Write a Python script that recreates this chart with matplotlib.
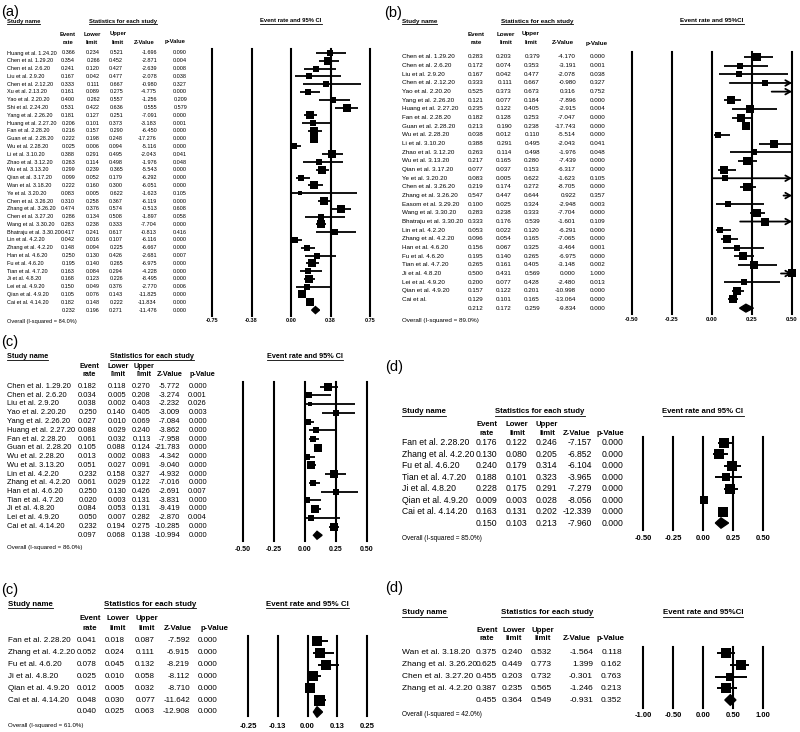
import matplotlib
matplotlib.use("Agg")
import matplotlib.pyplot as plt
from matplotlib.lines import Line2D
import numpy as np

plt.rcParams['font.family'] = ['Liberation Sans', 'DejaVu Sans']

W, H = 800, 732

# ---------------------------------------------------------------- data
a_studies = ["Huang et al. 1.24.20", "Chen et al. 1.29.20", "Chen et al. 2.6.20", "Liu et al. 2.9.20",
             "Chen et al. 2.12.20", "Xu et al. 2.13.20", "Yao et al. 2.20.20", "Shi et al. 2.24.20",
             "Yang et al. 2.26.20", "Huang et al. 2.27.20", "Fan et al. 2.28.20", "Guan et al. 2.28.20",
             "Wu et al. 2.28.20", "Li et al. 3.10.20", "Zhao et al. 3.12.20", "Wu et al. 3.13.20",
             "Qian et al. 3.17.20", "Wan et al. 3.18.20", "Ye et al. 3.20.20", "Chen et al. 3.26.20",
             "Zhang et al. 3.26.20", "Chen et al. 3.27.20", "Wang et al. 3.30.20", "Bhatraju et al. 3.30.20",
             "Lin et al. 4.2.20", "Zhang et al. 4.2.20", "Han et al. 4.6.20", "Fu et al. 4.6.20",
             "Tian et al. 4.7.20", "Ji et al. 4.8.20", "Lei et al. 4.9.20", "Qian et al. 4.9.20",
             "Cai et al. 4.14.20"]
a_rate = [0.366, 0.354, 0.241, 0.167, 0.333, 0.161, 0.400, 0.531, 0.181, 0.206, 0.216, 0.222, 0.025,
          0.388, 0.263, 0.299, 0.099, 0.222, 0.083, 0.310, 0.474, 0.286, 0.283, 0.417, 0.042, 0.148,
          0.250, 0.195, 0.163, 0.168, 0.150, 0.105, 0.182]
a_lower = [0.234, 0.266, 0.120, 0.042, 0.111, 0.089, 0.262, 0.422, 0.127, 0.101, 0.157, 0.198, 0.006,
           0.291, 0.114, 0.239, 0.052, 0.160, 0.005, 0.258, 0.376, 0.134, 0.238, 0.241, 0.016, 0.094,
           0.130, 0.140, 0.084, 0.123, 0.049, 0.076, 0.148]
a_upper = [0.521, 0.452, 0.427, 0.477, 0.667, 0.275, 0.557, 0.636, 0.251, 0.373, 0.290, 0.248, 0.094,
           0.495, 0.498, 0.365, 0.179, 0.300, 0.622, 0.367, 0.574, 0.508, 0.333, 0.617, 0.107, 0.225,
           0.426, 0.265, 0.294, 0.226, 0.376, 0.143, 0.222]
a_z = [-1.696, -2.871, -2.639, -2.078, -0.980, -4.775, -1.256, 0.555, -7.091, -3.183, -6.450, -17.276,
       -5.116, -2.043, -1.976, -5.543, -6.292, -6.051, -1.623, -6.119, -0.513, -1.897, -7.704, -0.813,
       -6.116, -6.667, -2.681, -6.975, -4.228, -8.495, -2.770, -11.825, -11.834]
a_p = [0.090, 0.004, 0.008, 0.038, 0.327, 0.000, 0.209, 0.579, 0.000, 0.001, 0.000, 0.000, 0.000,
       0.041, 0.048, 0.000, 0.000, 0.000, 0.105, 0.000, 0.608, 0.058, 0.000, 0.416, 0.000, 0.000,
       0.007, 0.000, 0.000, 0.000, 0.006, 0.000, 0.000]
a_overall = [0.232, 0.196, 0.271, -11.476, 0.000]
a_i2 = 84.0
a_ticks = [-0.75, -0.375, 0.0, 0.375, 0.75]
a_ticklabels = ["-0.75", "-0.38", "0.00", "0.38", "0.75"]

b_studies = ["Chen et al. 1.29.20", "Chen et al. 2.6.20", "Liu et al. 2.9.20", "Chen et al. 2.12.20",
             "Yao et al. 2.20.20", "Yang et al. 2.26.20", "Huang et al. 2.27.20", "Fan et al. 2.28.20",
             "Guan et al. 2.28.20", "Wu et al. 2.28.20", "Li et al. 3.10.20", "Zhao et al. 3.12.20",
             "Wu et al. 3.13.20", "Qian et al. 3.17.20", "Ye et al. 3.20.20", "Chen et al. 3.26.20",
             "Zhang et al. 3.26.20", "Easom et al. 3.29.20", "Wang et al. 3.30.20", "Bhatraju et al. 3.30.20",
             "Lin et al. 4.2.20", "Zhang et al. 4.2.20", "Han et al. 4.6.20", "Fu et al. 4.6.20",
             "Tian et al. 4.7.20", "Ji et al. 4.8.20", "Lei et al. 4.9.20", "Qian et al. 4.9.20", "Cai et al."]
b_rate = [0.283, 0.172, 0.167, 0.333, 0.525, 0.121, 0.235, 0.182, 0.213, 0.038, 0.388, 0.263, 0.217,
          0.077, 0.083, 0.219, 0.547, 0.100, 0.283, 0.333, 0.053, 0.096, 0.156, 0.195, 0.265, 0.500,
          0.200, 0.157, 0.129]
b_lower = [0.203, 0.074, 0.042, 0.111, 0.373, 0.077, 0.122, 0.128, 0.190, 0.012, 0.291, 0.114, 0.165,
           0.037, 0.005, 0.174, 0.447, 0.025, 0.238, 0.176, 0.022, 0.054, 0.067, 0.140, 0.161, 0.431,
           0.077, 0.122, 0.101]
b_upper = [0.379, 0.353, 0.477, 0.667, 0.673, 0.184, 0.405, 0.253, 0.238, 0.110, 0.495, 0.498, 0.280,
           0.153, 0.622, 0.272, 0.644, 0.324, 0.333, 0.539, 0.120, 0.165, 0.325, 0.265, 0.405, 0.569,
           0.428, 0.201, 0.165]
b_z = [-4.170, -3.191, -2.078, -0.980, 0.316, -7.896, -2.915, -7.047, -17.743, -5.514, -2.043, -1.976,
       -7.439, -6.317, -1.623, -8.705, 0.922, -2.948, -7.704, -1.601, -6.291, -7.065, -3.464, -6.975,
       -3.148, 0.000, -2.480, -10.998, -13.064]
b_p = [0.000, 0.001, 0.038, 0.327, 0.752, 0.000, 0.004, 0.000, 0.000, 0.000, 0.041, 0.048, 0.000,
       0.000, 0.105, 0.000, 0.357, 0.003, 0.000, 0.109, 0.000, 0.000, 0.001, 0.000, 0.002, 1.000,
       0.013, 0.000, 0.000]
b_overall = [0.212, 0.172, 0.259, -9.834, 0.000]
b_i2 = 89.0
b_ticks = [-0.5, -0.25, 0.0, 0.25, 0.5]
b_ticklabels = ["-0.50", "-0.25", "0.00", "0.25", "0.50"]

c1_studies = ["Chen et al. 1.29.20", "Chen et al. 2.6.20", "Liu et al. 2.9.20", "Yao et al. 2.20.20",
              "Yang et al. 2.26.20", "Huang et al. 2.27.20", "Fan et al. 2.28.20", "Guan et al. 2.28.20",
              "Wu et al. 2.28.20", "Wu et al. 3.13.20", "Lin et al. 4.2.20", "Zhang et al. 4.2.20",
              "Han et al. 4.6.20", "Tian et al. 4.7.20", "Ji et al. 4.8.20", "Lei et al. 4.9.20",
              "Cai et al. 4.14.20"]
c1_rate = [0.182, 0.034, 0.038, 0.250, 0.027, 0.088, 0.061, 0.105, 0.013, 0.051, 0.232, 0.061, 0.250,
           0.020, 0.084, 0.050, 0.232]
c1_lower = [0.118, 0.005, 0.002, 0.140, 0.010, 0.029, 0.032, 0.088, 0.002, 0.027, 0.158, 0.029, 0.130,
            0.003, 0.053, 0.007, 0.194]
c1_upper = [0.270, 0.208, 0.403, 0.405, 0.069, 0.240, 0.113, 0.124, 0.083, 0.091, 0.327, 0.122, 0.426,
            0.131, 0.131, 0.282, 0.275]
c1_z = [-5.772, -3.274, -2.232, -3.009, -7.084, -3.862, -7.958, -21.783, -4.342, -9.040, -4.932, -7.016,
        -2.691, -3.831, -9.419, -2.870, -10.285]
c1_p = [0.000, 0.001, 0.026, 0.003, 0.000, 0.000, 0.000, 0.000, 0.000, 0.000, 0.000, 0.000, 0.007,
        0.000, 0.000, 0.004, 0.000]
c1_overall = [0.097, 0.068, 0.138, -10.994, 0.000]
c1_i2 = 86.0
c1_ticks = [-0.5, -0.25, 0.0, 0.25, 0.5]
c1_ticklabels = ["-0.50", "-0.25", "0.00", "0.25", "0.50"]

d1_studies = ["Fan et al. 2.28.20", "Zhang et al. 4.2.20", "Fu et al. 4.6.20", "Tian et al. 4.7.20",
              "Ji et al. 4.8.20", "Qian et al. 4.9.20", "Cai et al. 4.14.20"]
d1_rate = [0.176, 0.130, 0.240, 0.188, 0.228, 0.009, 0.163]
d1_lower = [0.122, 0.080, 0.179, 0.101, 0.175, 0.003, 0.131]
d1_upper = [0.246, 0.205, 0.314, 0.323, 0.291, 0.028, 0.202]
d1_z = [-7.157, -6.852, -6.104, -3.965, -7.279, -8.056, -12.339]
d1_p = [0.000, 0.000, 0.000, 0.000, 0.000, 0.000, 0.000]
d1_overall = [0.150, 0.103, 0.213, -7.960, 0.000]
d1_i2 = 85.0
d1_ticks = [-0.5, -0.25, 0.0, 0.25, 0.5]
d1_ticklabels = ["-0.50", "-0.25", "0.00", "0.25", "0.50"]

c2_studies = ["Fan et al. 2.28.20", "Zhang et al. 4.2.20", "Fu et al. 4.6.20", "Ji et al. 4.8.20",
              "Qian et al. 4.9.20", "Cai et al. 4.14.20"]
c2_rate = [0.041, 0.052, 0.078, 0.025, 0.012, 0.048]
c2_lower = [0.018, 0.024, 0.045, 0.010, 0.005, 0.030]
c2_upper = [0.087, 0.111, 0.132, 0.058, 0.032, 0.077]
c2_z = [-7.592, -6.915, -8.219, -8.112, -8.710, -11.642]
c2_p = [0.000, 0.000, 0.000, 0.000, 0.000, 0.000]
c2_overall = [0.040, 0.025, 0.063, -12.908, 0.000]
c2_i2 = 61.0
c2_ticks = [-0.25, -0.125, 0.0, 0.125, 0.25]
c2_ticklabels = ["-0.25", "-0.13", "0.00", "0.13", "0.25"]

d2_studies = ["Wan et al. 3.18.20", "Zhang et al. 3.26.20", "Chen et al. 3.27.20", "Zhang et al. 4.2.20"]
d2_rate = [0.375, 0.625, 0.455, 0.387]
d2_lower = [0.240, 0.449, 0.203, 0.235]
d2_upper = [0.532, 0.773, 0.732, 0.565]
d2_z = [-1.564, 1.399, -0.301, -1.246]
d2_p = [0.118, 0.162, 0.763, 0.213]
d2_overall = [0.455, 0.364, 0.549, -0.931, 0.352]
d2_i2 = 42.0
d2_ticks = [-1.0, -0.5, 0.0, 0.5, 1.0]
d2_ticklabels = ["-1.00", "-0.50", "0.00", "0.50", "1.00"]

# ---------------------------------------------------------------- layout (pixels)
LAYOUT = {
    'a': dict(label='(a)', label_xy=(1, 12), name_x=7, head_y=21, head2_y=(34, 42), stat_cx=123,
              ci_title='Event rate and 95% CI', col_center=[68, 92, 118, 144, 175],
              col_right=[75, 100, 123, 157, 187], y0=53, dy=7.79, overall_y=321,
              fx=(212, 370), lines=(49, 316), tick_y=321,
              fs=3.95, hfs=4.2, ofs=4.1, tfs=4.0, sq=(4.5, 7.5), lw=1.3),
    'b': dict(label='(b)', label_xy=(384, 13), name_x=402, head_y=21, head2_y=(34, 43), stat_cx=537,
              ci_title='Event rate and 95%CI', col_center=[476, 506, 531, 563, 597],
              col_right=[483, 512, 540, 576, 605], y0=57, dy=8.66, overall_y=320,
              fx=(632, 792), lines=(52, 314), tick_y=320,
              fs=4.5, hfs=4.5, ofs=4.5, tfs=4.3, sq=(5.0, 8.5), lw=1.3),
    'c1': dict(label='(c)', label_xy=(1, 342), name_x=7, head_y=356, head2_y=(367, 375), stat_cx=152,
               ci_title='Event rate and 95% CI', col_center=[89, 118, 144, 170, 202],
               col_right=[97, 126, 151, 180, 207], y0=386.5, dy=8.75, overall_y=547,
               fx=(243, 367), lines=(382, 541), tick_y=549,
               fs=5.4, hfs=5.2, ofs=4.4, tfs=5.0, sq=(4.5, 8.0), lw=1.3),
    'd1': dict(label='(d)', label_xy=(385, 367), name_x=402, head_y=412, head2_y=(424, 433), stat_cx=540,
               ci_title='Event rate and 95% CI', col_center=[487, 517, 547, 577, 610],
               col_right=[497, 527, 557, 592, 623], y0=443, dy=11.43, overall_y=539,
               fx=(643, 763), lines=(437, 530), tick_y=538,
               fs=6.2, hfs=5.6, ofs=4.7, tfs=5.5, sq=(6.0, 10.0), lw=1.4),
    'c2': dict(label='(c)', label_xy=(1, 590), name_x=8, head_y=604, head2_y=(619, 628), stat_cx=150,
               ci_title='Event rate and 95% CI', col_center=[90, 118, 147, 178, 215],
               col_right=[97, 125, 155, 190, 217], y0=641, dy=11.83, overall_y=726,
               fx=(248, 367), lines=(636, 716), tick_y=726,
               fs=5.8, hfs=5.7, ofs=4.4, tfs=5.5, sq=(6.0, 11.0), lw=1.4),
    'd2': dict(label='(d)', label_xy=(385, 588), name_x=402, head_y=613, head2_y=(630, 639), stat_cx=547,
               ci_title='Event rate and 95%CI', col_center=[487, 514, 543, 577, 611],
               col_right=[497, 523, 552, 593, 622], y0=653, dy=11.75, overall_y=715,
               fx=(643, 763), lines=(647, 708), tick_y=715,
               fs=6.0, hfs=5.7, ofs=4.7, tfs=5.5, sq=(5.0, 10.0), lw=1.4),
}

PANELS = {
    'a': (a_studies, a_rate, a_lower, a_upper, a_z, a_p, a_overall, a_i2, a_ticks, a_ticklabels),
    'b': (b_studies, b_rate, b_lower, b_upper, b_z, b_p, b_overall, b_i2, b_ticks, b_ticklabels),
    'c1': (c1_studies, c1_rate, c1_lower, c1_upper, c1_z, c1_p, c1_overall, c1_i2, c1_ticks, c1_ticklabels),
    'd1': (d1_studies, d1_rate, d1_lower, d1_upper, d1_z, d1_p, d1_overall, d1_i2, d1_ticks, d1_ticklabels),
    'c2': (c2_studies, c2_rate, c2_lower, c2_upper, c2_z, c2_p, c2_overall, c2_i2, c2_ticks, c2_ticklabels),
    'd2': (d2_studies, d2_rate, d2_lower, d2_upper, d2_z, d2_p, d2_overall, d2_i2, d2_ticks, d2_ticklabels),
}

fig = plt.figure(figsize=(W / 100, H / 100), dpi=100)
fig.patch.set_facecolor('white')


def ftext(x, y, s, **kw):
    return fig.text(x / W, 1 - y / H, s, **kw)


underlined = []


def rel_weights(rate, lo, hi):
    lo = np.clip(np.asarray(lo, float), 1e-3, 0.999)
    hi = np.clip(np.asarray(hi, float), 1e-3, 0.999)
    logit = lambda v: np.log(v / (1 - v))
    se = (logit(hi) - logit(lo)) / 3.92
    w = 1.0 / (se ** 2 + 0.25)
    return w / w.max()


def draw_panel(key):
    L = LAYOUT[key]
    studies, rate, lower, upper, z, p, overall, i2, ticks, ticklabels = PANELS[key]
    n = len(studies)

    # panel label
    ftext(*L['label_xy'], L['label'], fontsize=10.5, ha='left', va='center')

    # headers
    hkw = dict(fontsize=L['hfs'], fontweight='bold', va='center')
    underlined.append(ftext(L['name_x'], L['head_y'], 'Study name', ha='left', **hkw))
    underlined.append(ftext(L['stat_cx'], L['head_y'], 'Statistics for each study', ha='center', **hkw))
    fx0, fx1 = L['fx']
    underlined.append(ftext((fx0 + fx1) / 2, L['head_y'], L['ci_title'], ha='center', **hkw))
    y1, y2 = L['head2_y']
    tops = ['Event', 'Lower', 'Upper', None, None]
    bots = ['rate', 'limit', 'limit', 'Z-Value', 'p-Value']
    for cx, t, b in zip(L['col_center'], tops, bots):
        if t:
            ftext(cx, y1, t, ha='center', **hkw)
        ftext(cx, y2, b, ha='center', **hkw)

    # table rows
    rkw = dict(fontsize=L['fs'], va='center')
    for i in range(n):
        y = L['y0'] + i * L['dy']
        ftext(L['name_x'], y, studies[i], ha='left', **rkw)
        for xr, v in zip(L['col_right'], (rate[i], lower[i], upper[i], z[i], p[i])):
            ftext(xr, y, f"{v:.3f}", ha='right', **rkw)
    y = L['y0'] + n * L['dy']
    for xr, v in zip(L['col_right'], overall):
        ftext(xr, y, f"{v:.3f}", ha='right', **rkw)
    ftext(L['name_x'], L['overall_y'], f"Overall (I-squared = {i2:.1f}%)", ha='left',
          fontsize=L['ofs'], va='center')

    # forest plot axes
    lt, lb = L['lines']
    ax = fig.add_axes([fx0 / W, 1 - lb / H, (fx1 - fx0) / W, (lb - lt) / H])
    ax.patch.set_alpha(0)
    for s in ax.spines.values():
        s.set_visible(False)
    lim0, lim1 = ticks[0], ticks[-1]
    ax.set_xlim(lim0, lim1)
    ax.set_ylim((lb - L['y0']) / L['dy'], (lt - L['y0']) / L['dy'])
    ax.set_yticks([])
    ax.set_xticks(ticks)
    ax.set_xticklabels(ticklabels, fontsize=L['tfs'], fontweight='bold')
    tick_pad_px = L['tick_y'] - lb - L['tfs'] * 100 / 72 * 0.45
    ax.tick_params(axis='x', length=0, pad=max(tick_pad_px, 0) * 0.72)
    for t in ticks:
        ax.axvline(t, color='black', lw=1.5, clip_on=False, zorder=1)

    rows = np.arange(n)
    rate_a = np.asarray(rate, float)
    lo_a = np.asarray(lower, float)
    hi_a = np.asarray(upper, float)
    w = rel_weights(rate_a, lo_a, hi_a)
    smin, smax = L['sq']
    sides_px = smin + (smax - smin) * w
    for i in rows:
        lo_c = max(lo_a[i], lim0)
        if hi_a[i] > lim1:
            ax.annotate('', xy=(lim1, i), xytext=(lo_c, i),
                        arrowprops=dict(arrowstyle='->,head_length=0.35,head_width=0.2', lw=L['lw'],
                                        color='black', shrinkA=0, shrinkB=0, mutation_scale=10),
                        annotation_clip=False, zorder=3)
        else:
            ax.plot([lo_c, hi_a[i]], [i, i], color='black', lw=L['lw'], solid_capstyle='butt',
                    zorder=3, clip_on=False)
        if rate_a[i] <= lim1:
            ax.scatter([rate_a[i]], [i], marker='s', s=(sides_px[i] * 0.72) ** 2, color='black',
                       zorder=4, clip_on=False, linewidths=0)
    # overall diamond
    est, olo, ohi = overall[0], overall[1], overall[2]
    hh = 0.45
    ax.fill([olo, est, ohi, est], [n, n - hh, n, n + hh], color='black', zorder=4, clip_on=False)
    return ax


for k in ['a', 'b', 'c1', 'd1', 'c2', 'd2']:
    draw_panel(k)

# underline header texts
renderer = fig.canvas.get_renderer()
for t in underlined:
    bb = t.get_window_extent(renderer)
    yline = (bb.y0 - 0.3) / H
    fig.add_artist(Line2D([bb.x0 / W, bb.x1 / W], [yline, yline], transform=fig.transFigure,
                          color='black', lw=0.6))

fig.savefig('out.png', dpi=100, facecolor='white')
